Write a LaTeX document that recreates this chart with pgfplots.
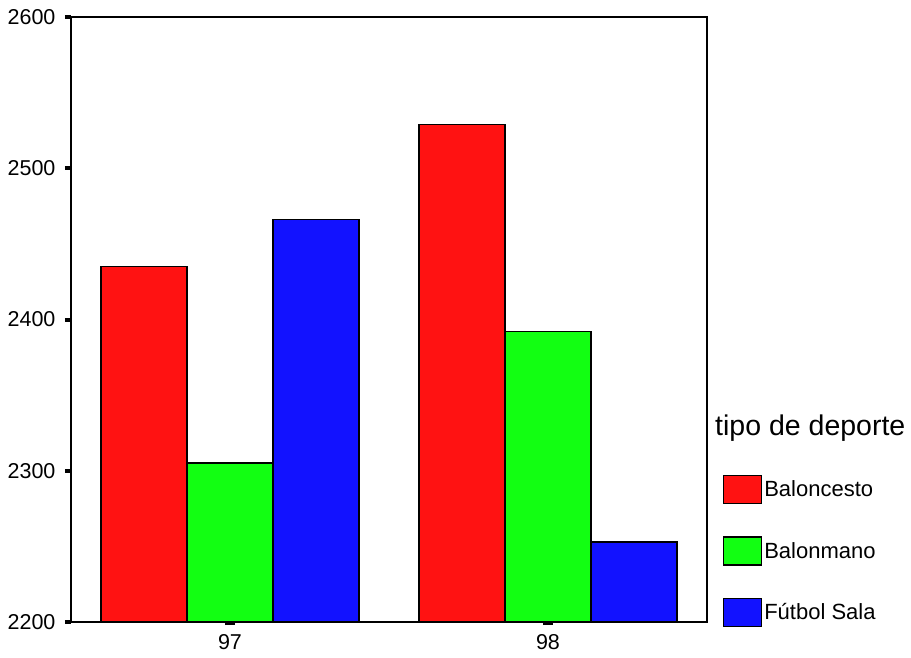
\documentclass[border=0pt]{standalone}
\usepackage{fontspec}
\setmainfont{Liberation Sans}
\usepackage{pgfplots}
\pgfplotsset{compat=1.18}
\definecolor{cRed}{RGB}{255,18,18}
\definecolor{cGreen}{RGB}{18,255,18}
\definecolor{cBlue}{RGB}{18,18,255}
\begin{document}
\begin{tikzpicture}[x=1pt,y=1pt]
\path[use as bounding box] (0,0) rectangle (911,657);
\begin{axis}[
  at={(71pt,35pt)}, anchor=south west,
  scale only axis, width=636pt, height=605pt,
  xmin=-0.5, xmax=1.5, ymin=2200, ymax=2600,
  xtick={0,1}, xticklabels={97,98},
  ytick={2200,2300,2400,2500,2600},
  xtick pos=bottom, ytick pos=left,
  ybar=0pt, bar width=86pt,
  axis line style={line width=1.4pt},
  tick align=outside,
  major tick length=6pt,
  ytick style={line width=4pt, black},
  xtick style={line width=10pt, black, dash pattern=on 0pt off 3pt on 2.5pt off 10pt},
  yticklabel style={font=\fontsize{21.5}{25}\selectfont, anchor=east, xshift=-6pt},
  xticklabel style={font=\fontsize{21.5}{25}\selectfont, anchor=north, yshift=-3pt},
  /pgf/number format/assume math mode=true,
  /pgf/number format/1000 sep={},
  clip=false,
  legend style={draw=none, fill=none, at={(1.025,0.243)}, anchor=north west,
    inner sep=0pt, outer sep=0pt, row sep=32pt, font=\fontsize{22}{26}\selectfont,
    /tikz/every even column/.append style={column sep=0pt}},
  legend cell align=left,
  legend image code/.code={\draw[#1,draw=black,line width=1.4pt] (0pt,-14pt) rectangle (38pt,14pt);},
]
\addplot[fill=cRed, draw=black, line width=1.4pt] coordinates {(0,2435) (1,2529)};
\addplot[fill=cGreen, draw=black, line width=1.4pt] coordinates {(0,2305) (1,2392)};
\addplot[fill=cBlue, draw=black, line width=1.4pt] coordinates {(0,2466) (1,2253)};
\legend{Baloncesto,Balonmano,Fútbol Sala}
\node[anchor=west, font=\fontsize{28.5}{33}\selectfont, inner sep=0pt] at (rel axis cs:1.0126,0.3207) {tipo de deporte};
\end{axis}
\end{tikzpicture}
\end{document}
